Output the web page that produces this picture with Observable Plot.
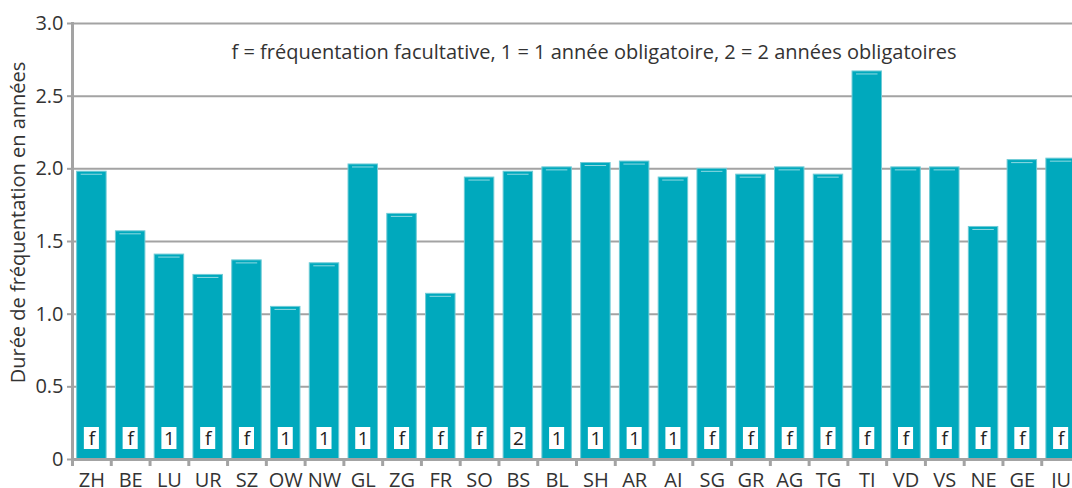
<!DOCTYPE html>
<html><head><meta charset="utf-8">
<script src="https://cdn.jsdelivr.net/npm/d3@7"></script>
<script src="https://cdn.jsdelivr.net/npm/@observablehq/plot@0.6"></script>
<style>html,body{margin:0;padding:0;overflow:hidden;background:#fff}</style>
</head><body><div id="chart"></div>
<script>
const cantons = ["ZH","BE","LU","UR","SZ","OW","NW","GL","ZG","FR","SO","BS","BL","SH","AR","AI","SG","GR","AG","TG","TI","VD","VS","NE","GE","JU"];
const durations = [1.98,1.57,1.41,1.27,1.37,1.05,1.35,2.03,1.69,1.14,1.94,1.98,2.01,2.04,2.05,1.94,2.00,1.96,2.01,1.96,2.67,2.01,2.01,1.60,2.06,2.07];
const codes = ["f","f","1","f","f","1","1","1","f","f","f","2","1","1","1","1","f","f","f","f","f","f","f","f","f","f"];
const yTicks = [0,0.5,1,1.5,2,2.5,3];
const legendText = "f = fréquentation facultative, 1 = 1 année obligatoire, 2 = 2 années obligatoires";
const yTitle = "Durée de fréquentation en années";

const data = cantons.map((c,i)=>({canton:c, value:durations[i], code:codes[i]}));
const W=1080, H=500, ML=72, MR=0, MT=23, MB=41;
const step = (W-ML-MR)/cantons.length;
const font = "'Open Sans', sans-serif";
const grey = "#a3a3a3";
const chart = Plot.plot({
  width: W, height: H, marginLeft: ML, marginRight: MR, marginTop: MT, marginBottom: MB,
  style: {fontFamily: font, fontSize: "20px", color: "#333", background: "#fff", maxWidth: "none", overflow: "hidden"},
  x: {domain: cantons, paddingInner: 0.24, paddingOuter: 0.12, align: 0.5, round: false},
  y: {domain: [0,3]},
  marks: [
    Plot.gridY(yTicks.filter(d=>d>0), {stroke: grey, strokeWidth: 2, strokeOpacity: 1}),
    Plot.barY(data, {x:"canton", y:"value", fill:"#00a9bd", stroke:"#6fcbd6", strokeWidth:1}),
    Plot.tickY(data, {x:"canton", y:"value", dy: 2.5, stroke:"#8fd9e2", strokeWidth:1, insetLeft:4, insetRight:4}),
    Plot.tickY(data, {x:"canton", y: 0, dy:-21.5, stroke:"#fff", strokeWidth:22, insetLeft:7.2, insetRight:7.2}),
    Plot.text(data, {x:"canton", y: 0, dy:-21, text:"code", fill:"#222", fontSize:19, lineAnchor:"middle"}),
    Plot.ruleY([0], {stroke: grey, strokeWidth: 3}),
    Plot.frame({anchor:"left", stroke: grey, strokeWidth: 3}),
    Plot.axisY({ticks: yTicks, tickFormat: d => d === 0 ? "0" : d.toFixed(1), tickSize:5, tickPadding:4, stroke: grey, strokeWidth:2, label:null, fontSize:20}),
    Plot.axisX({tickSize:0, tickPadding:13, label:null, fontSize:20}),
    Plot.axisX({tickSize:7, tickFormat: () => "", dx: -step/2, stroke: grey, strokeWidth:3, label:null}),
    Plot.text([legendText], {frameAnchor:"top", dx:17.5, dy:29, lineAnchor:"middle", fontSize:20, fill:"#333"}),
    Plot.text([yTitle], {frameAnchor:"left", textAnchor:"middle", rotate:-90, dx:-54, dy:-19, lineAnchor:"middle", fontSize:20, fill:"#333"})
  ]
});
document.getElementById("chart").appendChild(chart);
</script>
</body></html>
